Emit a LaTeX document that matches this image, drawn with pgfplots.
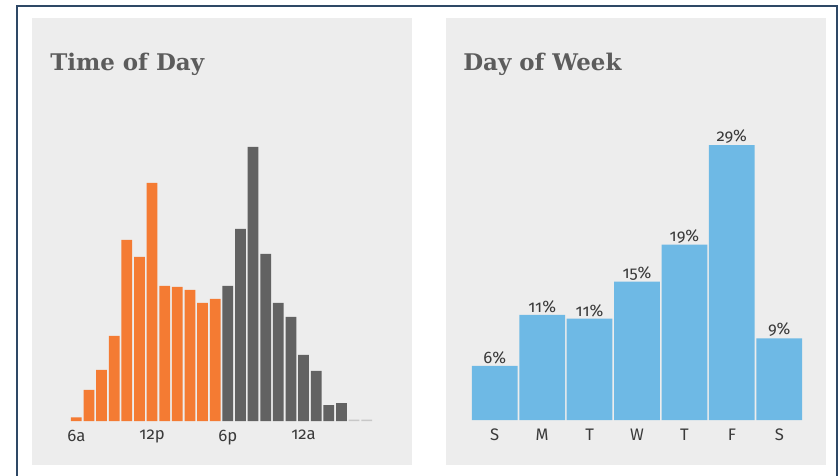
\documentclass[border=0pt]{standalone}
\usepackage{fontspec}
\setmainfont{Fira Sans}[Numbers=OldStyle]
\newfontfamily\titlefont{DejaVu Serif}
\usepackage{pgfplots}
\pgfplotsset{compat=1.18}
\definecolor{panelbg}{HTML}{EDEDED}
\definecolor{framecol}{HTML}{2E4866}
\definecolor{titlegray}{HTML}{5C5C5C}
\definecolor{labelgray}{HTML}{3A3A3A}
\definecolor{dayorange}{HTML}{F47B33}
\definecolor{nightgray}{HTML}{626262}
\definecolor{faintgray}{HTML}{C8C8C8}
\definecolor{weekblue}{HTML}{6EB9E5}
\pgfplotsset{
  panel axis/.style={
    scale only axis,
    anchor=south west,
    ymin=0,
    ybar,
    axis line style={draw=none},
    major tick length=0pt,
    ytick=\empty,
    clip=false,
    xticklabel style={font=\fontsize{12.5}{14}\selectfont, text=labelgray, yshift=-3pt},
  }
}

\begin{document}
\begin{tikzpicture}
\useasboundingbox (0,0) rectangle (629.25pt,356.25pt);
\fill[white] (0,0) rectangle (629.25pt,356.25pt);
\draw[framecol, line width=1.5pt] (12.75pt,-5pt) -- (12.75pt,351.75pt) -- (628.1pt,351.75pt) -- (628.1pt,-5pt);
\fill[panelbg] (24pt,7.5pt) rectangle (309pt,342.75pt);
\fill[panelbg] (334.5pt,7.5pt) rectangle (619.5pt,342.75pt);
\node[anchor=base west, inner sep=0pt, text=titlegray,
  font=\titlefont\bfseries\fontsize{17.2}{20}\selectfont] at (37.5pt,303.5pt) {Time of Day};
\node[anchor=base west, inner sep=0pt, text=titlegray,
  font=\titlefont\bfseries\fontsize{17.2}{20}\selectfont] at (347.25pt,303.5pt) {Day of Week};

% time of day, bar heights read in pixels
\begin{axis}[
  panel axis,
  at={(52.5pt,40.5pt)},
  width=227.25pt, height=210pt,
  xmin=5.5, xmax=29.5, ymax=280,
  bar width=0.86,
  xtick={6,12,18,24},
  xticklabels={6a,12p,6p,12a},
]
\addplot[fill=dayorange, draw=none, bar shift=0pt] coordinates {
  (6,3.7) (7,31) (8,51) (9,85) (10,181) (11,164)
  (12,238) (13,135) (14,134) (15,131) (16,118) (17,122)
};
\addplot[fill=nightgray, draw=none, bar shift=0pt] coordinates {
  (18,135) (19,192) (20,274) (21,167) (22,118) (23,104)
  (24,66) (25,50) (26,16) (27,18)
};
\addplot[fill=faintgray, draw=none, bar shift=0pt] coordinates {
  (28,1.5) (29,1.5)
};
\end{axis}

% day of week, percent
\begin{axis}[
  panel axis,
  at={(353.25pt,41.25pt)},
  width=249pt, height=220.4pt,
  xmin=-0.5, xmax=6.5, ymax=31,
  bar width=0.965,
  xtick={0,...,6},
  xticklabels={S,M,T,W,T,F,S},
  nodes near coords,
  point meta=explicit symbolic,
  nodes near coords style={font=\fontsize{12.5}{14}\selectfont, text=labelgray, anchor=south, inner sep=1pt},
]
\addplot[fill=weekblue, draw=none, bar shift=0pt] coordinates {
  (0,5.7) [6\%]
  (1,11.1) [11\%]
  (2,10.7) [11\%]
  (3,14.6) [15\%]
  (4,18.5) [19\%]
  (5,29.0) [29\%]
  (6,8.6) [9\%]
};
\end{axis}
\end{tikzpicture}
\end{document}
